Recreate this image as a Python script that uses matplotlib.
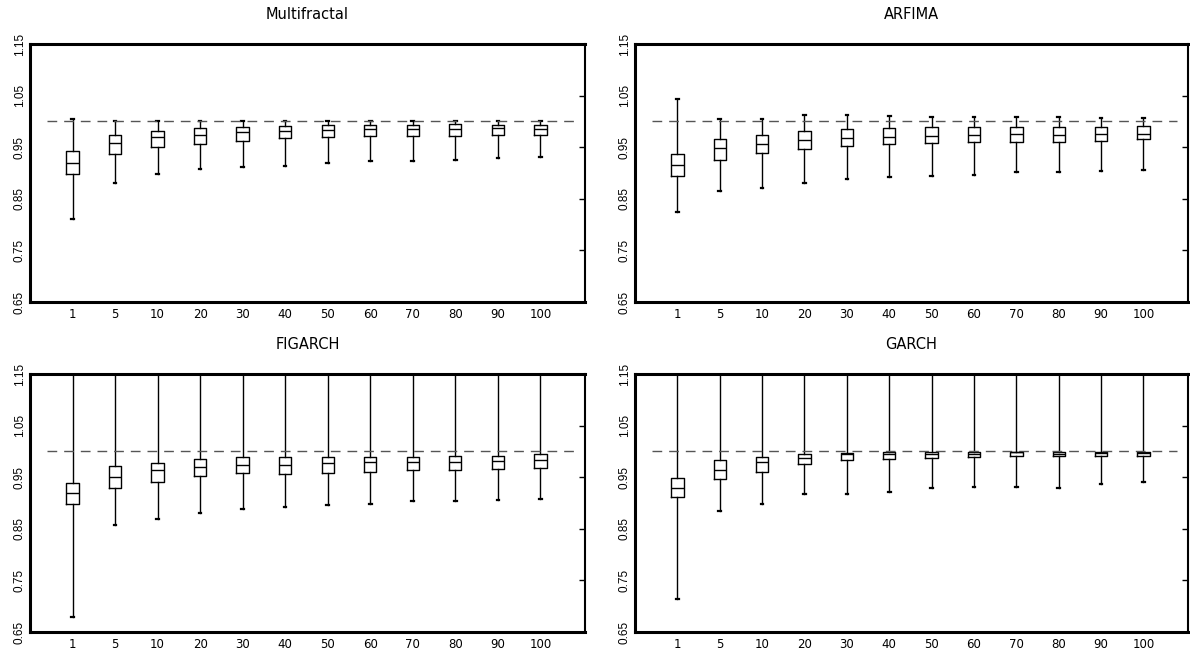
import numpy as np
import matplotlib
matplotlib.use("Agg")
import matplotlib.pyplot as plt

# Horizons on the x axis
horizons = ["1", "5", "10", "20", "30", "40", "50", "60", "70", "80", "90", "100"]
titles = ["Multifractal", "ARFIMA", "FIGARCH", "GARCH"]

# Box statistics (lower whisker, q1, median, q3, upper whisker)
mf_lo = [0.810, 0.880, 0.899, 0.908, 0.912, 0.914, 0.920, 0.923, 0.924, 0.925, 0.929, 0.931]
mf_q1 = [0.899, 0.937, 0.950, 0.956, 0.963, 0.967, 0.970, 0.972, 0.972, 0.971, 0.973, 0.974]
mf_med = [0.919, 0.958, 0.969, 0.974, 0.980, 0.982, 0.983, 0.985, 0.985, 0.985, 0.987, 0.985]
mf_q3 = [0.943, 0.973, 0.981, 0.987, 0.990, 0.992, 0.994, 0.994, 0.994, 0.995, 0.994, 0.994]
mf_hi = [1.005, 1.000, 1.000, 1.000, 1.000, 1.000, 1.000, 1.000, 1.000, 1.000, 1.000, 1.000]

ar_lo = [0.825, 0.865, 0.871, 0.880, 0.888, 0.892, 0.895, 0.897, 0.901, 0.901, 0.903, 0.905]
ar_q1 = [0.895, 0.926, 0.938, 0.947, 0.953, 0.956, 0.958, 0.960, 0.961, 0.961, 0.963, 0.965]
ar_med = [0.915, 0.948, 0.956, 0.964, 0.967, 0.970, 0.972, 0.974, 0.975, 0.974, 0.976, 0.976]
ar_q3 = [0.936, 0.965, 0.974, 0.981, 0.985, 0.987, 0.989, 0.990, 0.990, 0.990, 0.990, 0.991]
ar_hi = [1.043, 1.005, 1.004, 1.012, 1.012, 1.010, 1.009, 1.008, 1.008, 1.008, 1.006, 1.006]

# FIGARCH and GARCH upper whiskers run past the top of the plot
fg_lo = [0.680, 0.858, 0.868, 0.880, 0.888, 0.893, 0.897, 0.899, 0.903, 0.903, 0.905, 0.908]
fg_q1 = [0.899, 0.930, 0.941, 0.953, 0.958, 0.956, 0.959, 0.960, 0.963, 0.963, 0.965, 0.967]
fg_med = [0.919, 0.951, 0.963, 0.970, 0.973, 0.973, 0.977, 0.979, 0.979, 0.980, 0.982, 0.983]
fg_q3 = [0.939, 0.971, 0.977, 0.985, 0.989, 0.989, 0.990, 0.990, 0.990, 0.992, 0.992, 0.994]
fg_hi = [1.25] * 12

ga_lo = [0.713, 0.885, 0.899, 0.917, 0.917, 0.921, 0.929, 0.931, 0.931, 0.930, 0.936, 0.941]
ga_q1 = [0.911, 0.946, 0.961, 0.975, 0.983, 0.985, 0.988, 0.990, 0.991, 0.991, 0.991, 0.991]
ga_med = [0.930, 0.964, 0.979, 0.988, 0.994, 0.994, 0.995, 0.995, 0.998, 0.995, 0.996, 0.996]
ga_q3 = [0.948, 0.983, 0.990, 0.994, 0.997, 0.998, 0.998, 0.999, 0.999, 0.999, 0.999, 0.999]
ga_hi = [1.25] * 12

panels = [
    (mf_lo, mf_q1, mf_med, mf_q3, mf_hi),
    (ar_lo, ar_q1, ar_med, ar_q3, ar_hi),
    (fg_lo, fg_q1, fg_med, fg_q3, fg_hi),
    (ga_lo, ga_q1, ga_med, ga_q3, ga_hi),
]

yticks = [0.65, 0.75, 0.85, 0.95, 1.05, 1.15]

fig = plt.figure(figsize=(11.9, 6.52), dpi=100)
rects = [
    [0.0252, 0.5368, 0.4664, 0.3957],
    [0.5336, 0.5368, 0.4647, 0.3957],
    [0.0252, 0.0307, 0.4664, 0.3957],
    [0.5336, 0.0307, 0.4647, 0.3957],
]

for rect, title, (lo, q1, med, q3, hi) in zip(rects, titles, panels):
    ax = fig.add_axes(rect)
    stats = []
    for i in range(len(horizons)):
        stats.append(dict(whislo=lo[i], q1=q1[i], med=med[i], q3=q3[i],
                          whishi=hi[i], fliers=[], label=horizons[i]))
    pos = np.arange(1, len(horizons) + 1)
    ax.bxp(stats, positions=pos, widths=0.29, capwidths=0.06,
           showfliers=False,
           boxprops=dict(color="black", linewidth=1.0),
           medianprops=dict(color="black", linewidth=1.0),
           whiskerprops=dict(color="black", linewidth=1.0),
           capprops=dict(color="black", linewidth=1.6))
    ax.hlines(1.0, 0.4, 12.8, colors="#555555", linestyles=(0, (7, 5)), linewidth=1.0)

    ax.set_xlim(0, 13.05)
    ax.set_ylim(0.65, 1.15)
    ax.set_yticks(yticks)
    ax.set_yticklabels(["%.2f" % v for v in yticks], rotation=90, va="center",
                       fontsize=8.5, family="Liberation Sans")
    ax.set_xticks(pos)
    ax.set_xticklabels(horizons, fontsize=8.5, family="DejaVu Sans")
    ax.tick_params(axis="x", length=0, pad=4)
    ax.tick_params(axis="y", left=False, right=True, direction="in",
                   length=4, width=1.0, pad=3)
    for side in ["left", "top", "bottom"]:
        ax.spines[side].set_linewidth(2.2)
    ax.spines["right"].set_linewidth(1.5)
    ax.set_title(title, fontsize=10.5, family="DejaVu Sans", pad=18)

plt.savefig("out.png", dpi=100)
